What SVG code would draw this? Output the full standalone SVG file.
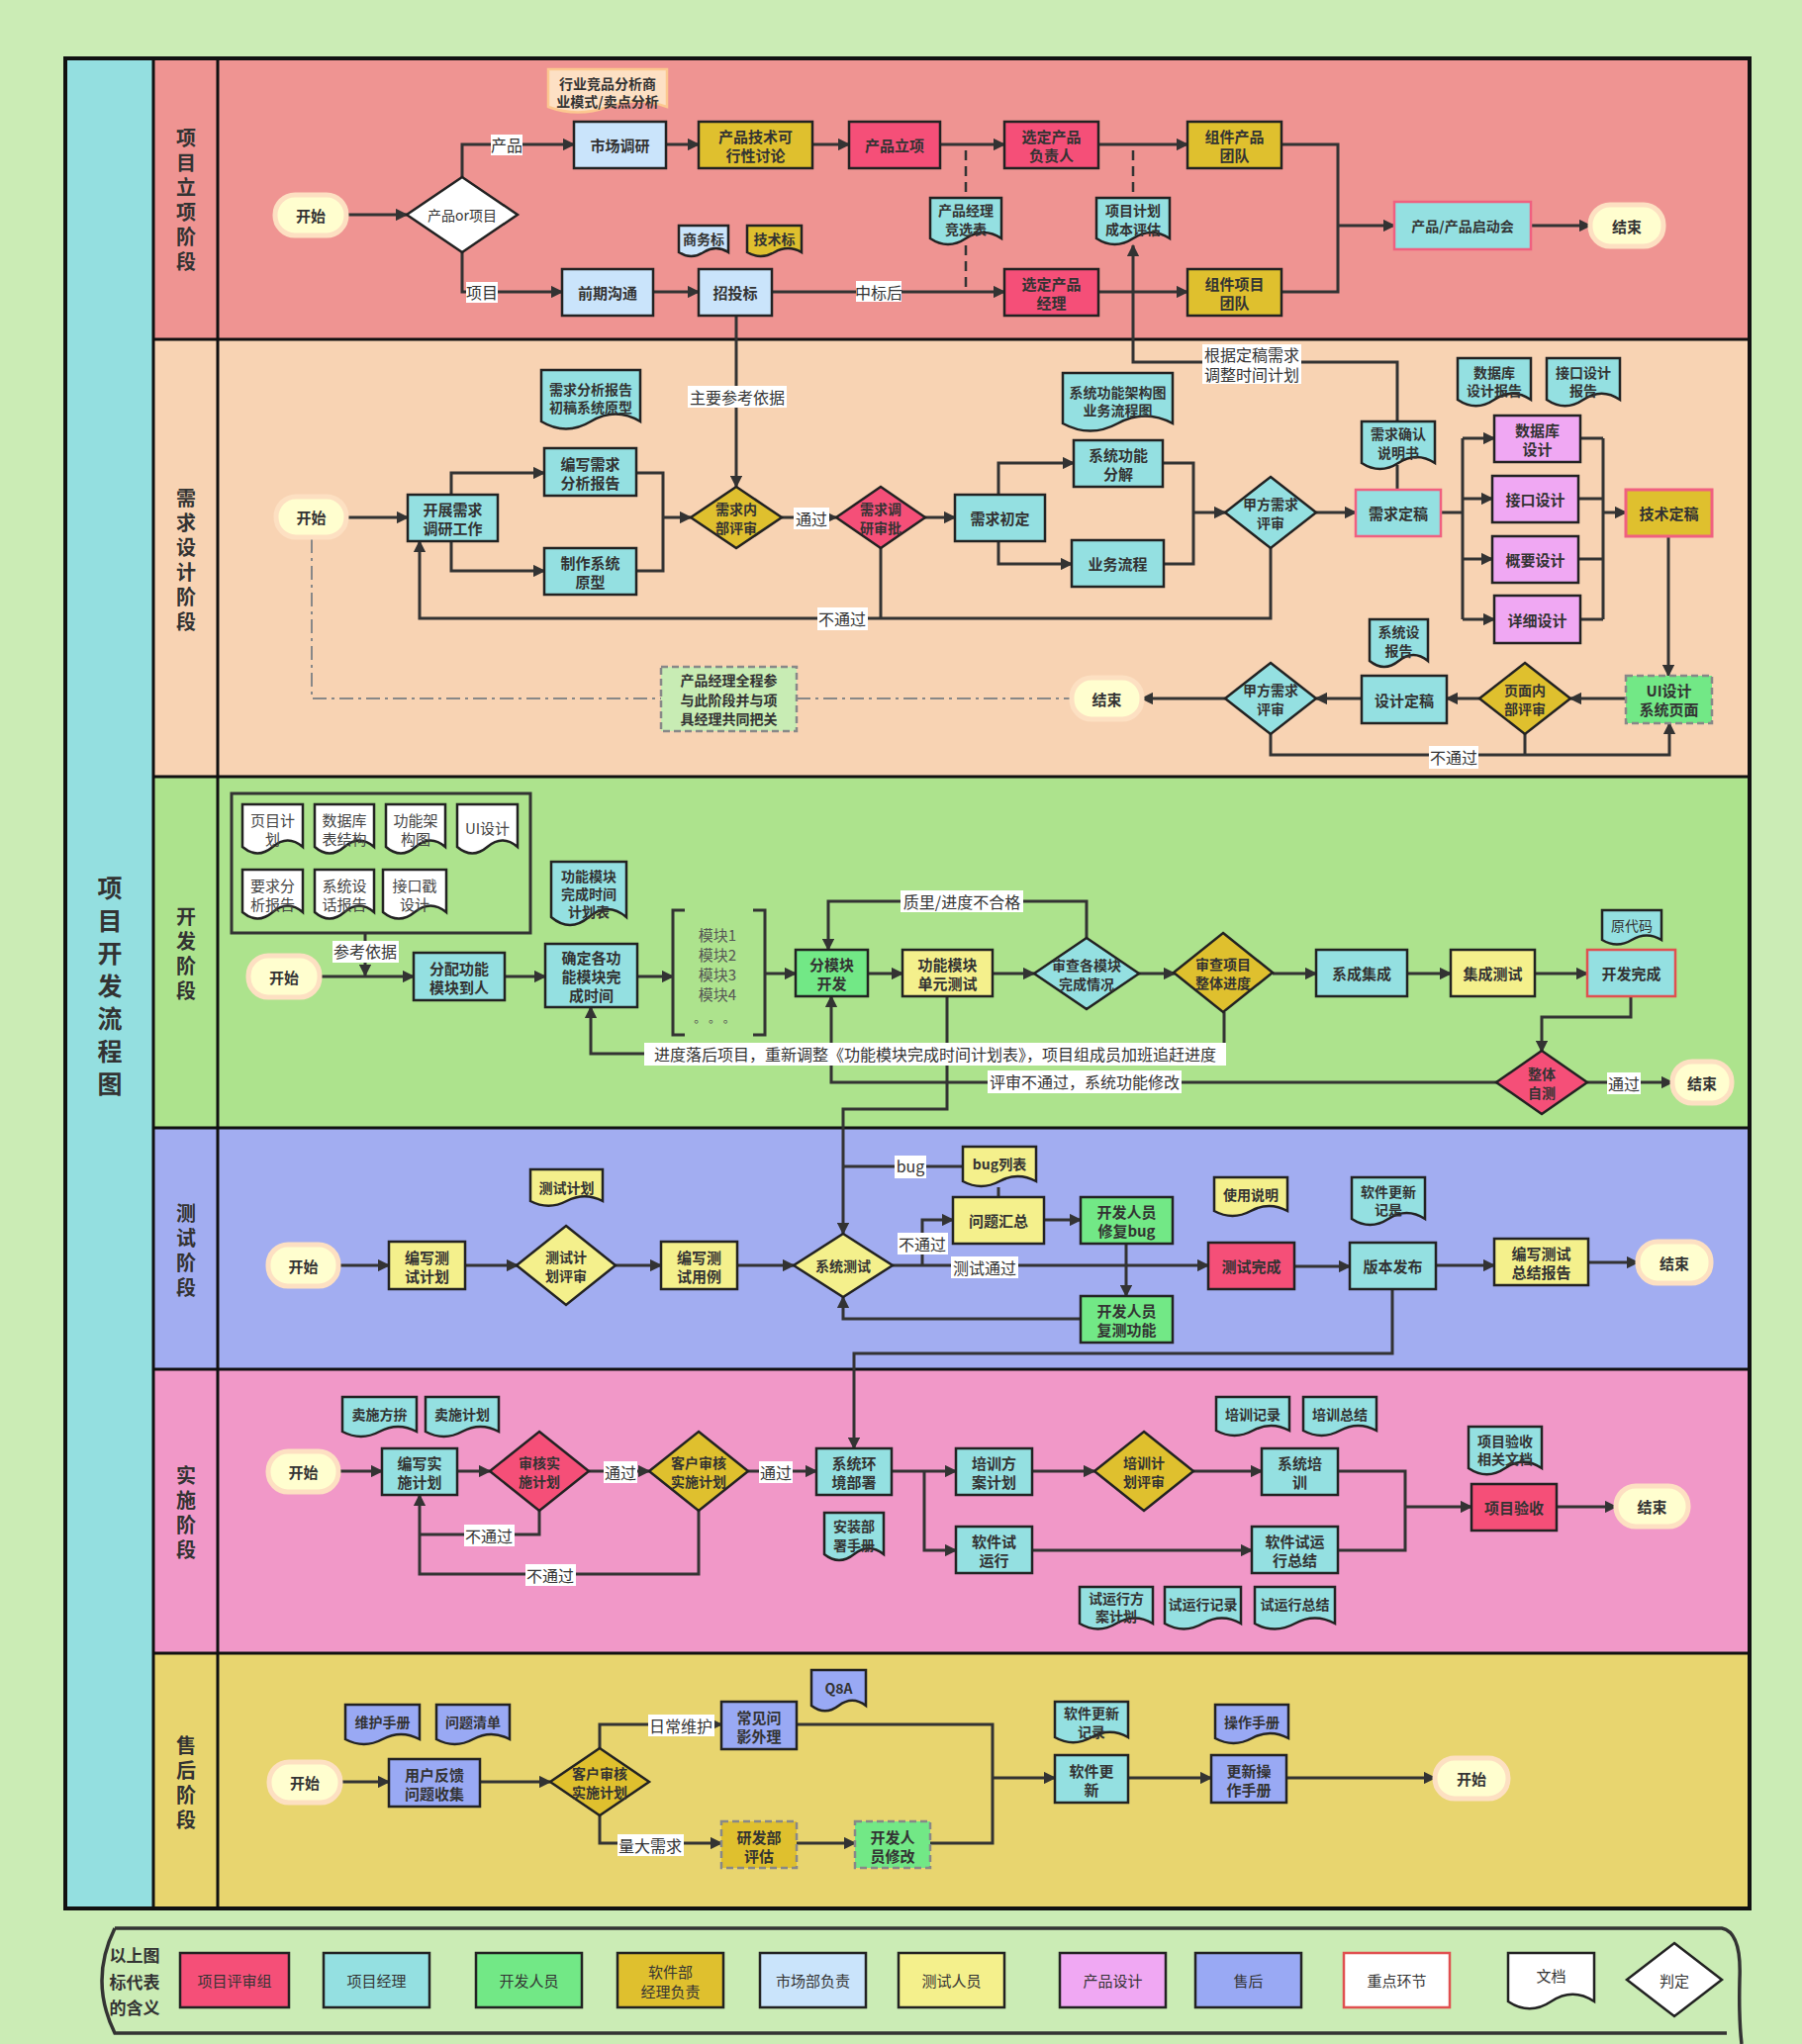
<svg xmlns="http://www.w3.org/2000/svg" width="1821" height="2066" viewBox="0 0 1821 2066">
<defs>
<style>
text{font-family:"Noto Sans CJK SC","Noto Sans",sans-serif;fill:#333;font-size:15px;text-anchor:middle;dominant-baseline:central;font-weight:bold}
text.l{font-weight:normal;font-size:16px}
text.s{font-size:14px}
text.r{font-weight:normal;fill:#444}
text.ph{font-size:20px;fill:#333}
.k{stroke:#222;stroke-width:2.5}
.pr{fill:#f54f78}.gd{fill:#dfc02e}.cy{fill:#94e0e1}.lb{fill:#cae4fb}.gr{fill:#72e886}.ye{fill:#f4f08c}.vi{fill:#f0a8f3}.bl{fill:#99a9f4}.wh{fill:#fff}
.pill{fill:#fffecf;stroke:#fde0c2;stroke-width:5}
.c{fill:none;stroke:#333;stroke-width:3}
.a{marker-end:url(#ar)}
.lbg{fill:#fff}
.dsh{fill:none;stroke:#333;stroke-width:2.5;stroke-dasharray:10 6}
.dd{fill:none;stroke:#888;stroke-width:2;stroke-dasharray:14 5 3 5}
.gdash{stroke:#888;stroke-width:2.5;stroke-dasharray:7 4}
.pk{stroke:#f06080;stroke-width:2.5}
.rd{stroke:#e05050;stroke-width:2.5}
.ln{stroke:#111;stroke-width:3;fill:none}
</style>
<marker id="ar" viewBox="0 0 10 10" refX="9" refY="5" markerWidth="4.2" markerHeight="4.2" orient="auto"><path d="M0,0 L10,5 L0,10z" fill="#333"/></marker>
</defs>

<g id="background">
<rect x="0" y="0" width="1821" height="2066" fill="#cbecb5"/>
<rect x="66" y="59" width="89" height="1870" fill="#94dfe0"/>
<rect x="155" y="59" width="1613" height="284" fill="#ef9492"/>
<rect x="155" y="343" width="1613" height="442" fill="#f8d3b3"/>
<rect x="155" y="785" width="1613" height="355" fill="#ade38d"/>
<rect x="155" y="1140" width="1613" height="244" fill="#a2adf1"/>
<rect x="155" y="1384" width="1613" height="287" fill="#f198c8"/>
<rect x="155" y="1671" width="1613" height="258" fill="#e8d56f"/>
<path class="ln" d="M155,59V1929M220,59V1929M155,343H1768M155,785H1768M155,1140H1768M155,1384H1768M155,1671H1768"/>
<rect x="66" y="59" width="1702" height="1870" fill="none" stroke="#111" stroke-width="4"/>
<text class="ph" style="font-size:25px"><tspan x="111" y="896">项</tspan><tspan x="111" y="929">目</tspan><tspan x="111" y="962">开</tspan><tspan x="111" y="995">发</tspan><tspan x="111" y="1028">流</tspan><tspan x="111" y="1061">程</tspan><tspan x="111" y="1094">图</tspan></text>
<text class="ph"><tspan x="188" y="138">项</tspan><tspan x="188" y="163">目</tspan><tspan x="188" y="188">立</tspan><tspan x="188" y="213">项</tspan><tspan x="188" y="238">阶</tspan><tspan x="188" y="263">段</tspan></text>
<text class="ph"><tspan x="188" y="502">需</tspan><tspan x="188" y="527">求</tspan><tspan x="188" y="552">设</tspan><tspan x="188" y="577">计</tspan><tspan x="188" y="602">阶</tspan><tspan x="188" y="627">段</tspan></text>
<text class="ph"><tspan x="188" y="925">开</tspan><tspan x="188" y="950">发</tspan><tspan x="188" y="975">阶</tspan><tspan x="188" y="1000">段</tspan></text>
<text class="ph"><tspan x="188" y="1225">测</tspan><tspan x="188" y="1250">试</tspan><tspan x="188" y="1275">阶</tspan><tspan x="188" y="1300">段</tspan></text>
<text class="ph"><tspan x="188" y="1490">实</tspan><tspan x="188" y="1515">施</tspan><tspan x="188" y="1540">阶</tspan><tspan x="188" y="1565">段</tspan></text>
<text class="ph"><tspan x="188" y="1763">售</tspan><tspan x="188" y="1788">后</tspan><tspan x="188" y="1813">阶</tspan><tspan x="188" y="1838">段</tspan></text>
</g>

<g id="connectors">
<!-- lane 1 -->
<path class="c a" d="M350,217H411"/>
<path class="c a" d="M467,179V146H580"/>
<path class="c a" d="M673,146H706"/>
<path class="c a" d="M821,146H858"/>
<path class="c a" d="M950,146H1015"/>
<path class="c a" d="M1110,146H1200"/>
<path class="c a" d="M467,255V295H568"/>
<path class="c a" d="M660,295H706"/>
<path class="c a" d="M780,295H1015"/>
<path class="c a" d="M1110,295H1200"/>
<path class="c" d="M1295,146H1352V295H1295"/>
<path class="c a" d="M1352,228H1409"/>
<path class="c a" d="M1547,228H1607"/>
<path class="dsh" d="M976,152V200M976,248V290M1145,152V200"/>
<path class="c a" d="M744,319V492"/>
<path class="c a" d="M1412,427V366H1145V248"/>
<!-- lane 2 -->
<path class="c a" d="M350,523H412"/>
<path class="c a" d="M456,500V478H550"/>
<path class="c a" d="M456,547V577H550"/>
<path class="c" d="M643,478H670V577H643"/>
<path class="c a" d="M670,523H698"/>
<path class="c a" d="M790,523H845"/>
<path class="c a" d="M934,523H965"/>
<path class="c" d="M890,554V625"/>
<path class="c a" d="M1284,554V625H424V547"/>
<path class="c a" d="M1009,500V468H1085"/>
<path class="c a" d="M1009,547V570H1083"/>
<path class="c" d="M1175,468H1206V570H1176"/>
<path class="c a" d="M1206,518H1238"/>
<path class="c a" d="M1330,518H1370"/>
<path class="c" d="M1412,470V495"/>
<path class="c" d="M1456,518H1478M1478,443V626"/>
<path class="c a" d="M1478,443H1510"/>
<path class="c a" d="M1478,504H1508"/>
<path class="c a" d="M1478,565H1508"/>
<path class="c a" d="M1478,626H1510"/>
<path class="c" d="M1597,443H1620M1595,504H1620M1595,565H1620M1597,626H1620M1620,443V626"/>
<path class="c a" d="M1620,518H1643"/>
<path class="c a" d="M1686,542V683"/>
<path class="c a" d="M1643,706H1587"/>
<path class="c a" d="M1495,706H1462"/>
<path class="c a" d="M1376,706H1330"/>
<path class="c a" d="M1238,706H1154"/>
<path class="c a" d="M1284,742V763H1687V731"/>
<path class="c" d="M1541,742V763"/>
<path class="dd" d="M315,545V706H668M805,706H1083"/>
<!-- lane 3 -->
<path class="c a" d="M369,943V986"/>
<path class="c a" d="M323,987H418"/>
<path class="c a" d="M510,987H551"/>
<path class="c a" d="M644,987H680"/>
<path class="c a" d="M773,984H804"/>
<path class="c a" d="M877,984H912"/>
<path class="c a" d="M1003,984H1045"/>
<path class="c a" d="M1150,984H1187"/>
<path class="c a" d="M1286,984H1330"/>
<path class="c a" d="M1422,984H1466"/>
<path class="c a" d="M1551,984H1604"/>
<path class="c a" d="M1098,948V911H837V960"/>
<path class="c a" d="M1237,1023V1065H597V1018"/>
<path class="c a" d="M1513,1094H840V1007"/>
<path class="c a" d="M1648,1007V1028H1558V1063"/>
<path class="c a" d="M1604,1094H1690"/>
<path class="c a" d="M957,1007V1121H852V1247"/>
<path class="c" d="M852,1179H973"/>
<!-- lane 4 -->
<path class="c a" d="M342,1279H393"/>
<path class="c a" d="M470,1279H523"/>
<path class="c a" d="M622,1279H668"/>
<path class="c a" d="M745,1279H802"/>
<path class="c a" d="M902,1279H1221"/>
<path class="c a" d="M932,1279V1233H963"/>
<path class="c" d="M1009,1200V1210"/>
<path class="c a" d="M1055,1233H1092"/>
<path class="c a" d="M1138,1257V1310"/>
<path class="c a" d="M1092,1333H852V1311"/>
<path class="c a" d="M1308,1280H1364"/>
<path class="c a" d="M1451,1279H1510"/>
<path class="c a" d="M1605,1276H1655"/>
<path class="c a" d="M1407,1303V1368H863V1464"/>
<!-- lane 5 -->
<path class="c a" d="M342,1487H386"/>
<path class="c a" d="M462,1487H495"/>
<path class="c a" d="M595,1487H656"/>
<path class="c a" d="M756,1487H825"/>
<path class="c" d="M545,1527V1551H424"/>
<path class="c a" d="M706,1527V1591H424V1511"/>
<path class="c a" d="M901,1487H966"/>
<path class="c a" d="M934,1487V1567H966"/>
<path class="c a" d="M1043,1487H1106"/>
<path class="c a" d="M1206,1487H1275"/>
<path class="c a" d="M1043,1567H1265"/>
<path class="c" d="M1352,1487H1420V1567H1352"/>
<path class="c a" d="M1420,1523H1487"/>
<path class="c a" d="M1573,1523H1633"/>
<!-- lane 6 -->
<path class="c a" d="M344,1801H393"/>
<path class="c a" d="M485,1801H556"/>
<path class="c a" d="M606,1767V1743H729"/>
<path class="c a" d="M606,1835V1863H729"/>
<path class="c a" d="M805,1863H864"/>
<path class="c" d="M805,1743H1003V1863H940"/>
<path class="c a" d="M1003,1797H1066"/>
<path class="c a" d="M1140,1797H1224"/>
<path class="c a" d="M1300,1797H1450"/>
<!-- labels -->
<rect class="lbg" x="496" y="136" width="32" height="21"/><text class="l" x="512" y="146">产品</text>
<rect class="lbg" x="471" y="285" width="32" height="21"/><text class="l" x="487" y="295">项目</text>
<rect class="lbg" x="865" y="284" width="46" height="21"/><text class="l" x="888" y="295">中标后</text>
<rect class="lbg" x="695" y="390" width="100" height="22"/><text class="l" x="745" y="401">主要参考依据</text>
<rect class="lbg" x="1215" y="348" width="100" height="40"/><text class="l"><tspan x="1265" y="358">根据定稿需求</tspan><tspan x="1265" y="378">调整时间计划</tspan></text>
<rect class="lbg" x="802" y="513" width="36" height="22"/><text class="l" x="820" y="524">通过</text>
<rect class="lbg" x="826" y="614" width="51" height="23"/><text class="l" x="851" y="625">不通过</text>
<rect class="lbg" x="1444" y="754" width="50" height="23"/><text class="l" x="1469" y="765">不通过</text>
<rect class="lbg" x="336" y="951" width="67" height="22"/><text class="l" x="369" y="961">参考依据</text>
<rect class="lbg" x="910" y="900" width="124" height="22"/><text class="l" x="972" y="911">质里/进度不合格</text>
<rect class="lbg" x="651" y="1054" width="588" height="23"/><text class="l" x="945" y="1065">进度落后项目，重新调整《功能模块完成时间计划表》，项目组成员加班追赶进度</text>
<rect class="lbg" x="998" y="1082" width="196" height="23"/><text class="l" x="1096" y="1093">评审不通过，系统功能修改</text>
<rect class="lbg" x="1624" y="1084" width="34" height="22"/><text class="l" x="1641" y="1095">通过</text>
<rect class="lbg" x="904" y="1168" width="32" height="23"/><text class="l" x="920" y="1178">bug</text>
<rect class="lbg" x="907" y="1246" width="51" height="22"/><text class="l" x="932" y="1257">不通过</text>
<rect class="lbg" x="961" y="1270" width="68" height="22"/><text class="l" x="995" y="1281">测试通过</text>
<rect class="lbg" x="610" y="1477" width="34" height="22"/><text class="l" x="627" y="1488">通过</text>
<rect class="lbg" x="767" y="1477" width="34" height="22"/><text class="l" x="784" y="1488">通过</text>
<rect class="lbg" x="469" y="1541" width="51" height="22"/><text class="l" x="494" y="1552">不通过</text>
<rect class="lbg" x="531" y="1581" width="51" height="22"/><text class="l" x="556" y="1592">不通过</text>
<rect class="lbg" x="655" y="1733" width="67" height="22"/><text class="l" x="688" y="1744">日常维护</text>
<rect class="lbg" x="624" y="1854" width="67" height="22"/><text class="l" x="657" y="1865">量大需求</text>
</g>

<!-- lane 1 nodes -->
<g id="start1"><rect class="pill" x="278" y="197" width="72" height="41" rx="20"/><text x="314" y="217">开始</text></g>
<g id="decide-product"><polygon class="k wh" points="467,179 523,217 467,255 411,217"/><text class="s" style="font-weight:normal" x="467" y="217">产品or项目</text></g>
<g id="doc-industry"><path d="M554 70h120v38q-30 -11 -60 0t-60 0z" fill="#fde0c4" stroke="#fcc890" stroke-width="2.5"/><text class="s"><tspan x="614" y="84">行业竞品分析商</tspan><tspan x="614" y="102">业模式/卖点分析</tspan></text></g>
<g id="market"><rect class="k lb" x="580" y="123" width="93" height="47"/><text x="626.5" y="146.5">市场调研</text></g>
<g id="feasibility"><rect class="k gd" x="706" y="123" width="115" height="47"/><text><tspan x="763.5" y="137">产品技术可</tspan><tspan x="763.5" y="156">行性讨论</tspan></text></g>
<g id="approve"><rect class="k pr" x="858" y="123" width="92" height="47"/><text x="904" y="146.5">产品立项</text></g>
<g id="pick-owner"><rect class="k pr" x="1015" y="123" width="95" height="47"/><text><tspan x="1062.5" y="137">选定产品</tspan><tspan x="1062.5" y="156">负责人</tspan></text></g>
<g id="team-product"><rect class="k gd" x="1200" y="123" width="95" height="47"/><text><tspan x="1247.5" y="137">组件产品</tspan><tspan x="1247.5" y="156">团队</tspan></text></g>
<g id="comm"><rect class="k lb" x="568" y="272" width="92" height="47"/><text x="614" y="295.5">前期沟通</text></g>
<g id="bid"><rect class="k lb" x="706" y="272" width="74" height="47"/><text x="743" y="295.5">招投标</text></g>
<g id="pick-pm"><rect class="k pr" x="1015" y="272" width="95" height="47"/><text><tspan x="1062.5" y="286">选定产品</tspan><tspan x="1062.5" y="305">经理</tspan></text></g>
<g id="team-project"><rect class="k gd" x="1200" y="272" width="95" height="47"/><text><tspan x="1247.5" y="286">组件项目</tspan><tspan x="1247.5" y="305">团队</tspan></text></g>
<g id="doc-business"><path class="k lb" d="M686 228h50v27q-12.5 -8 -25 0t-25 0z"/><text class="s" x="711" y="241">商务标</text></g>
<g id="doc-tech"><path class="k gd" d="M755 228h55v27q-13.75 -8 -27.5 0t-27.5 0z"/><text class="s" x="782.5" y="241">技术标</text></g>
<g id="doc-pm-select"><path class="k cy" d="M940 200h72v41q-18 -12 -36 0t-36 0z"/><text class="s"><tspan x="976" y="212">产品经理</tspan><tspan x="976" y="231">竞选表</tspan></text></g>
<g id="doc-plan-cost"><path class="k cy" d="M1108 200h74v41q-18.5 -12 -37 0t-37 0z"/><text class="s"><tspan x="1145" y="212">项目计划</tspan><tspan x="1145" y="231">成本评估</tspan></text></g>
<g id="kickoff"><rect class="pk cy" x="1409" y="204" width="138" height="48"/><text class="s" x="1478" y="228">产品/产品启动会</text></g>
<g id="end1"><rect class="pill" x="1607" y="207" width="74" height="42" rx="20"/><text x="1644" y="228">结束</text></g>

<!-- lane 2 nodes -->
<g id="start2"><rect class="pill" x="279" y="502" width="71" height="41" rx="20"/><text x="314.5" y="522.5">开始</text></g>
<g id="research"><rect class="k cy" x="412" y="500" width="91" height="47"/><text><tspan x="457.5" y="514">开展需求</tspan><tspan x="457.5" y="533">调研工作</tspan></text></g>
<g id="write-req"><rect class="k cy" x="550" y="453" width="93" height="48"/><text><tspan x="596.5" y="467.5">编写需求</tspan><tspan x="596.5" y="486.5">分析报告</tspan></text></g>
<g id="prototype"><rect class="k cy" x="550" y="554" width="93" height="47"/><text><tspan x="596.5" y="568">制作系统</tspan><tspan x="596.5" y="587">原型</tspan></text></g>
<g id="doc-req"><path class="k cy" d="M547 374h100v52q-25 -15 -50 0t-50 0z"/><text class="s"><tspan x="597" y="393">需求分析报告</tspan><tspan x="597" y="411">初稿系统原型</tspan></text></g>
<g id="req-review"><polygon class="k gd" points="744,492 790,523 744,554 698,523"/><text class="s"><tspan x="744" y="514">需求内</tspan><tspan x="744" y="533">部评审</tspan></text></g>
<g id="req-approve"><polygon class="k pr" points="890,492 935,523 890,554 845,523"/><text class="s"><tspan x="890" y="514">需求调</tspan><tspan x="890" y="533">研审批</tspan></text></g>
<g id="req-init"><rect class="k cy" x="965" y="500" width="91" height="47"/><text x="1010.5" y="523.5">需求初定</text></g>
<g id="doc-arch"><path class="k cy" d="M1074 377h111v51q-27.75 -15 -55.5 0t-55.5 0z"/><text class="s"><tspan x="1129.5" y="396">系统功能架构图</tspan><tspan x="1129.5" y="414">业务流程图</tspan></text></g>
<g id="func-decomp"><rect class="k cy" x="1085" y="445" width="90" height="47"/><text><tspan x="1130" y="459">系统功能</tspan><tspan x="1130" y="478">分解</tspan></text></g>
<g id="biz-flow"><rect class="k cy" x="1083" y="546" width="93" height="47"/><text x="1129.5" y="569.5">业务流程</text></g>
<g id="client-review1"><polygon class="k cy" points="1284,482 1330,518 1284,554 1238,518"/><text class="s"><tspan x="1284" y="509">甲方需求</tspan><tspan x="1284" y="528">评审</tspan></text></g>
<g id="doc-confirm"><path class="k cy" d="M1376 426h74v42q-18.5 -12 -37 0t-37 0z"/><text class="s"><tspan x="1413" y="438">需求确认</tspan><tspan x="1413" y="457">说明书</tspan></text></g>
<g id="req-final"><rect class="pk cy" x="1370" y="495" width="86" height="47"/><text x="1413" y="518.5">需求定稿</text></g>
<g id="doc-db"><path class="k cy" d="M1473 362h74v42q-18.5 -12.5 -37 0t-37 0z"/><text class="s"><tspan x="1510" y="376">数据库</tspan><tspan x="1510" y="394">设计报告</tspan></text></g>
<g id="doc-api"><path class="k cy" d="M1563 362h74v42q-18.5 -12.5 -37 0t-37 0z"/><text class="s"><tspan x="1600" y="376">接口设计</tspan><tspan x="1600" y="394">报告</tspan></text></g>
<g id="db-design"><rect class="k vi" x="1510" y="420" width="87" height="47"/><text><tspan x="1553.5" y="434">数据库</tspan><tspan x="1553.5" y="453">设计</tspan></text></g>
<g id="api-design"><rect class="k vi" x="1508" y="481" width="87" height="47"/><text x="1551.5" y="504.5">接口设计</text></g>
<g id="outline-design"><rect class="k vi" x="1508" y="542" width="87" height="47"/><text x="1551.5" y="565.5">概要设计</text></g>
<g id="detail-design"><rect class="k vi" x="1510" y="602" width="87" height="48"/><text x="1553.5" y="626">详细设计</text></g>
<g id="tech-final"><rect class="gd" x="1643" y="495" width="87" height="47" stroke="#f06080" stroke-width="3"/><text x="1686.5" y="518.5">技术定稿</text></g>
<g id="ui-design"><rect class="gdash gr" x="1643" y="683" width="87" height="48"/><text><tspan x="1686.5" y="697">UI设计</tspan><tspan x="1686.5" y="716">系统页面</tspan></text></g>
<g id="page-review"><polygon class="k gd" points="1541,670 1587,706 1541,742 1495,706"/><text class="s"><tspan x="1541" y="697">页面内</tspan><tspan x="1541" y="716">部评审</tspan></text></g>
<g id="design-final"><rect class="k cy" x="1376" y="683" width="86" height="48"/><text x="1419" y="707">设计定稿</text></g>
<g id="doc-sysdesign"><path class="k cy" d="M1384 626h59v42q-14.75 -12 -29.5 0t-29.5 0z"/><text class="s"><tspan x="1413.5" y="638">系统设</tspan><tspan x="1413.5" y="657">报告</tspan></text></g>
<g id="client-review2"><polygon class="k cy" points="1284,670 1330,706 1284,742 1238,706"/><text class="s"><tspan x="1284" y="697">甲方需求</tspan><tspan x="1284" y="716">评审</tspan></text></g>
<g id="end2"><rect class="pill" x="1083" y="685" width="71" height="42" rx="20"/><text x="1118.5" y="706">结束</text></g>
<g id="note-pm"><rect class="gdash" x="668" y="674" width="137" height="65" fill="#c8ecb4"/><text class="s"><tspan x="736.5" y="687">产品经理全程参</tspan><tspan x="736.5" y="706.5">与此阶段并与项</tspan><tspan x="736.5" y="726">具经理共同把关</tspan></text></g>

<!-- lane 3 nodes -->
<g id="dev-docs">
<rect x="234" y="802" width="302" height="141" fill="none" stroke="#333" stroke-width="3"/>
<path class="k wh" d="M245 813h61v43q-15.25 -13 -30.5 0t-30.5 0z"/>
<path class="k wh" d="M318 813h60v43q-15 -13 -30 0t-30 0z"/>
<path class="k wh" d="M390 813h60v43q-15 -13 -30 0t-30 0z"/>
<path class="k wh" d="M462 813h61v43q-15.25 -13 -30.5 0t-30.5 0z"/>
<path class="k wh" d="M245 879h61v43q-15.25 -13 -30.5 0t-30.5 0z"/>
<path class="k wh" d="M318 879h60v43q-15 -13 -30 0t-30 0z"/>
<path class="k wh" d="M387 879h64v43q-16 -13 -32 0t-32 0z"/>
<text class="r"><tspan x="275.5" y="828">页目计</tspan><tspan x="275.5" y="847">划</tspan></text>
<text class="r"><tspan x="348" y="828">数据库</tspan><tspan x="348" y="847">表结构</tspan></text>
<text class="r"><tspan x="420" y="828">功能架</tspan><tspan x="420" y="847">构图</tspan></text>
<text class="r" x="492.5" y="836">UI设计</text>
<text class="r"><tspan x="275.5" y="894">要求分</tspan><tspan x="275.5" y="913">析报告</tspan></text>
<text class="r"><tspan x="348" y="894">系统设</tspan><tspan x="348" y="913">话报告</tspan></text>
<text class="r"><tspan x="419" y="894">接口戳</tspan><tspan x="419" y="913">设计</tspan></text>
</g>
<g id="start3"><rect class="pill" x="251" y="966" width="72" height="42" rx="20"/><text x="287" y="987">开始</text></g>
<g id="assign"><rect class="k cy" x="418" y="963" width="92" height="48"/><text><tspan x="464" y="977.5">分配功能</tspan><tspan x="464" y="996.5">模块到人</tspan></text></g>
<g id="doc-schedule"><path class="k cy" d="M557 871h76v56q-19 -16 -38 0t-38 0z"/><text class="s"><tspan x="595" y="885">功能模块</tspan><tspan x="595" y="903">完成时间</tspan><tspan x="595" y="921">计划表</tspan></text></g>
<g id="schedule"><rect class="k cy" x="551" y="954" width="93" height="64"/><text><tspan x="597.5" y="967">确定各功</tspan><tspan x="597.5" y="986">能模块完</tspan><tspan x="597.5" y="1005">成时间</tspan></text></g>
<g id="modules">
<path d="M692,920H680V1046H692M761,920H773V1046H761" fill="none" stroke="#333" stroke-width="3"/>
<text class="r" style="fill:#555"><tspan x="725" y="944">模块1</tspan><tspan x="725" y="964">模块2</tspan><tspan x="725" y="984">模块3</tspan><tspan x="725" y="1004">模块4</tspan></text>
<text class="r" style="fill:#555;font-size:12px" x="722" y="1028">。 。 。</text>
</g>
<g id="module-dev"><rect class="k gr" x="804" y="960" width="73" height="47"/><text><tspan x="840.5" y="974">分模块</tspan><tspan x="840.5" y="993">开发</tspan></text></g>
<g id="unit-test"><rect class="k ye" x="912" y="960" width="91" height="47"/><text><tspan x="957.5" y="974">功能模块</tspan><tspan x="957.5" y="993">单元测试</tspan></text></g>
<g id="check-modules"><polygon class="k cy" points="1098,948 1151,984 1098,1020 1045,984"/><text class="s"><tspan x="1098" y="975">审查各模块</tspan><tspan x="1098" y="994">完成情况</tspan></text></g>
<g id="check-progress"><polygon class="k gd" points="1236,943 1286,983 1236,1023 1186,983"/><text class="s"><tspan x="1236" y="974">审查项目</tspan><tspan x="1236" y="993">整体进度</tspan></text></g>
<g id="integrate"><rect class="k cy" x="1330" y="960" width="92" height="47"/><text x="1376" y="983.5">系成集成</text></g>
<g id="int-test"><rect class="k ye" x="1466" y="960" width="85" height="47"/><text x="1508.5" y="983.5">集成测试</text></g>
<g id="dev-done"><rect class="rd cy" x="1604" y="960" width="89" height="47"/><text x="1648.5" y="983.5">开发完成</text></g>
<g id="doc-source"><path class="k cy" d="M1619 920h60v30q-15 -9 -30 0t-30 0z"/><text class="s" style="font-weight:normal" x="1649" y="935">原代码</text></g>
<g id="self-test"><polygon class="k pr" points="1558,1062 1604,1094 1558,1126 1512,1094"/><text class="s"><tspan x="1558" y="1085">整体</tspan><tspan x="1558" y="1104">自测</tspan></text></g>
<g id="end3"><rect class="pill" x="1690" y="1073" width="60" height="42" rx="20"/><text x="1720" y="1094">结束</text></g>

<!-- lane 4 nodes -->
<g id="start4"><rect class="pill" x="271" y="1258" width="71" height="42" rx="20"/><text x="306.5" y="1279">开始</text></g>
<g id="write-plan"><rect class="k ye" x="393" y="1255" width="77" height="48"/><text><tspan x="431.5" y="1269.5">编写测</tspan><tspan x="431.5" y="1288.5">试计划</tspan></text></g>
<g id="doc-testplan"><path class="k ye" d="M536 1182h73v32q-18.25 -9.5 -36.5 0t-36.5 0z"/><text class="s" x="572.5" y="1200">测试计划</text></g>
<g id="plan-review"><polygon class="k ye" points="572,1239 622,1279 572,1319 522,1279"/><text class="s"><tspan x="572" y="1269.5">测试计</tspan><tspan x="572" y="1288.5">划评审</tspan></text></g>
<g id="write-cases"><rect class="k ye" x="668" y="1255" width="77" height="48"/><text><tspan x="706.5" y="1269.5">编写测</tspan><tspan x="706.5" y="1288.5">试用例</tspan></text></g>
<g id="sys-test"><polygon class="k ye" points="852,1247 902,1279 852,1311 802,1279"/><text class="s" x="852" y="1279">系统测试</text></g>
<g id="doc-buglist"><path class="k ye" d="M973 1159h74v35q-18.5 -10 -37 0t-37 0z"/><text class="s" x="1010" y="1176">bug列表</text></g>
<g id="issues"><rect class="k ye" x="963" y="1210" width="92" height="47"/><text x="1009" y="1233.5">问题汇总</text></g>
<g id="fix-bug"><rect class="k gr" x="1092" y="1210" width="93" height="47"/><text><tspan x="1138.5" y="1224">开发人员</tspan><tspan x="1138.5" y="1243">修复bug</tspan></text></g>
<g id="retest"><rect class="k gr" x="1092" y="1310" width="93" height="47"/><text><tspan x="1138.5" y="1324">开发人员</tspan><tspan x="1138.5" y="1343">复测功能</tspan></text></g>
<g id="test-done"><rect class="k pr" x="1221" y="1256" width="87" height="47"/><text x="1264.5" y="1279.5">测试完成</text></g>
<g id="doc-manual"><path class="k ye" d="M1227 1190h74v34q-18.5 -10 -37 0t-37 0z"/><text class="s" x="1264" y="1207">使用说明</text></g>
<g id="release"><rect class="k cy" x="1364" y="1256" width="87" height="47"/><text x="1407.5" y="1279.5">版本发布</text></g>
<g id="doc-changelog"><path class="k cy" d="M1366 1190h74v42q-18.5 -12 -37 0t-37 0z"/><text class="s"><tspan x="1403" y="1204">软件更新</tspan><tspan x="1403" y="1222">记是</tspan></text></g>
<g id="test-report"><rect class="k ye" x="1510" y="1252" width="95" height="47"/><text><tspan x="1557.5" y="1266">编写测试</tspan><tspan x="1557.5" y="1285">总结报告</tspan></text></g>
<g id="end4"><rect class="pill" x="1655" y="1255" width="74" height="42" rx="20"/><text x="1692" y="1276">结束</text></g>

<!-- lane 5 nodes -->
<g id="start5"><rect class="pill" x="271" y="1467" width="71" height="41" rx="20"/><text x="306.5" y="1487.5">开始</text></g>
<g id="impl-plan"><rect class="k cy" x="386" y="1464" width="76" height="47"/><text><tspan x="424" y="1478">编写实</tspan><tspan x="424" y="1497">施计划</tspan></text></g>
<g id="doc-impl-scheme"><path class="k cy" d="M346 1412h75v35q-18.75 -10 -37.5 0t-37.5 0z"/><text class="s" x="383.5" y="1429">卖施方拚</text></g>
<g id="doc-impl-plan"><path class="k cy" d="M430 1412h74v35q-18.5 -10 -37 0t-37 0z"/><text class="s" x="467" y="1429">卖施计划</text></g>
<g id="impl-review"><polygon class="k pr" points="545,1447 595,1487 545,1527 495,1487"/><text class="s"><tspan x="545" y="1478">审核实</tspan><tspan x="545" y="1497">施计划</tspan></text></g>
<g id="client-impl-review"><polygon class="k gd" points="706,1447 756,1487 706,1527 656,1487"/><text class="s"><tspan x="706" y="1478">客户审核</tspan><tspan x="706" y="1497">实施计划</tspan></text></g>
<g id="deploy"><rect class="k cy" x="825" y="1464" width="76" height="47"/><text><tspan x="863" y="1478">系统环</tspan><tspan x="863" y="1497">境部署</tspan></text></g>
<g id="doc-install"><path class="k cy" d="M833 1529h60v42q-15 -12 -30 0t-30 0z"/><text class="s"><tspan x="863" y="1542">安装部</tspan><tspan x="863" y="1561">署手册</tspan></text></g>
<g id="train-plan"><rect class="k cy" x="966" y="1464" width="77" height="47"/><text><tspan x="1004.5" y="1478">培训方</tspan><tspan x="1004.5" y="1497">案计划</tspan></text></g>
<g id="trial-run"><rect class="k cy" x="966" y="1543" width="77" height="47"/><text><tspan x="1004.5" y="1557">软件试</tspan><tspan x="1004.5" y="1576">运行</tspan></text></g>
<g id="train-review"><polygon class="k gd" points="1156,1447 1206,1487 1156,1527 1106,1487"/><text class="s"><tspan x="1156" y="1478">培训计</tspan><tspan x="1156" y="1497">划评审</tspan></text></g>
<g id="doc-trial-plan"><path class="k cy" d="M1091 1604h74v37q-18.5 -11 -37 0t-37 0z"/><text class="s"><tspan x="1128" y="1615">试运行方</tspan><tspan x="1128" y="1633">案计划</tspan></text></g>
<g id="doc-trial-log"><path class="k cy" d="M1177 1604h77v37q-19.25 -11 -38.5 0t-38.5 0z"/><text class="s" x="1215.5" y="1621">试运行记录</text></g>
<g id="doc-trial-sum"><path class="k cy" d="M1268 1604h81v37q-20.25 -11 -40.5 0t-40.5 0z"/><text class="s" x="1308.5" y="1621">试运行总结</text></g>
<g id="training"><rect class="k cy" x="1275" y="1464" width="77" height="47"/><text><tspan x="1313.5" y="1478">系统培</tspan><tspan x="1313.5" y="1497">训</tspan></text></g>
<g id="trial-summary"><rect class="k cy" x="1265" y="1543" width="87" height="47"/><text><tspan x="1308.5" y="1557">软件试运</tspan><tspan x="1308.5" y="1576">行总结</tspan></text></g>
<g id="doc-train-log"><path class="k cy" d="M1229 1412h74v34q-18.5 -10 -37 0t-37 0z"/><text class="s" x="1266" y="1429">培训记录</text></g>
<g id="doc-train-sum"><path class="k cy" d="M1317 1412h74v34q-18.5 -10 -37 0t-37 0z"/><text class="s" x="1354" y="1429">培训总结</text></g>
<g id="doc-accept"><path class="k cy" d="M1484 1442h74v42q-18.5 -12.5 -37 0t-37 0z"/><text class="s"><tspan x="1521" y="1456">项目验收</tspan><tspan x="1521" y="1474">相关文档</tspan></text></g>
<g id="accept"><rect class="k pr" x="1487" y="1500" width="86" height="47"/><text x="1530" y="1523.5">项目验收</text></g>
<g id="end5"><rect class="pill" x="1633" y="1502" width="73" height="41" rx="20"/><text x="1669.5" y="1522.5">结束</text></g>

<!-- lane 6 nodes -->
<g id="start6"><rect class="pill" x="272" y="1781" width="72" height="41" rx="20"/><text x="308" y="1801.5">开始</text></g>
<g id="feedback"><rect class="k bl" x="393" y="1778" width="92" height="48"/><text><tspan x="439" y="1792.5">用户反馈</tspan><tspan x="439" y="1811.5">问题收集</tspan></text></g>
<g id="doc-maint"><path class="k bl" d="M349 1723h75v35q-18.75 -10 -37.5 0t-37.5 0z"/><text class="s" x="386.5" y="1740">维护手册</text></g>
<g id="doc-issues"><path class="k bl" d="M441 1723h74v35q-18.5 -10 -37 0t-37 0z"/><text class="s" x="478" y="1740">问题清单</text></g>
<g id="client-review3"><polygon class="k gd" points="606,1767 656,1801 606,1835 556,1801"/><text class="s"><tspan x="606" y="1792">客户审核</tspan><tspan x="606" y="1811">实施计划</tspan></text></g>
<g id="faq"><rect class="k bl" x="729" y="1720" width="76" height="48"/><text><tspan x="767" y="1734.5">常见问</tspan><tspan x="767" y="1753.5">影外理</tspan></text></g>
<g id="doc-qa"><path class="k bl" d="M820 1688h55v36q-13.75 -10.5 -27.5 0t-27.5 0z"/><text class="s" x="847.5" y="1706">Q8A</text></g>
<g id="rd-eval"><rect class="gdash gd" x="729" y="1841" width="76" height="47"/><text><tspan x="767" y="1855.5">研发部</tspan><tspan x="767" y="1874.5">评估</tspan></text></g>
<g id="dev-modify"><rect class="gdash gr" x="864" y="1841" width="76" height="47"/><text><tspan x="902" y="1855.5">开发人</tspan><tspan x="902" y="1874.5">员修改</tspan></text></g>
<g id="sw-update"><rect class="k cy" x="1066" y="1774" width="74" height="48"/><text><tspan x="1103" y="1788.5">软件更</tspan><tspan x="1103" y="1807.5">新</tspan></text></g>
<g id="doc-sw-log"><path class="k cy" d="M1066 1720h74v36q-18.5 -10.5 -37 0t-37 0z"/><text class="s"><tspan x="1103" y="1731">软件更新</tspan><tspan x="1103" y="1750">记录</tspan></text></g>
<g id="update-manual"><rect class="k bl" x="1224" y="1774" width="76" height="48"/><text><tspan x="1262" y="1788.5">更新操</tspan><tspan x="1262" y="1807.5">作手册</tspan></text></g>
<g id="doc-op-manual"><path class="k bl" d="M1228 1723h74v34q-18.5 -10 -37 0t-37 0z"/><text class="s" x="1265" y="1740">操作手册</text></g>
<g id="start7"><rect class="pill" x="1450" y="1777" width="74" height="41" rx="20"/><text x="1487" y="1797.5">开始</text></g>

<!-- legend -->
<g id="legend">
<path d="M116,1949H1740Q1760,1953 1758,2000Q1757,2040 1760,2066M1745,2055H116Q90,2002 116,1949" fill="none" stroke="#333" stroke-width="3.5"/>
<text style="font-size:17px"><tspan x="136" y="1975">以上图</tspan><tspan x="136" y="2002">标代表</tspan><tspan x="136" y="2028">的含义</tspan></text>
<rect class="k pr" x="182" y="1974" width="110" height="55"/><text class="r" style="fill:#333" x="237" y="2001.5">项目评审组</text>
<rect class="k cy" x="327" y="1974" width="107" height="55"/><text class="r" style="fill:#333" x="380.5" y="2001.5">项目经理</text>
<rect class="k gr" x="481" y="1974" width="107" height="55"/><text class="r" style="fill:#333" x="534.5" y="2001.5">开发人员</text>
<rect class="k gd" x="624" y="1974" width="107" height="55"/><text class="r" style="fill:#333"><tspan x="677.5" y="1992">软件部</tspan><tspan x="677.5" y="2012">经理负责</tspan></text>
<rect class="k lb" x="768" y="1974" width="107" height="55"/><text class="r" style="fill:#333" x="821.5" y="2001.5">市场部负责</text>
<rect class="k ye" x="908" y="1974" width="107" height="55"/><text class="r" style="fill:#333" x="961.5" y="2001.5">测试人员</text>
<rect class="k vi" x="1071" y="1974" width="107" height="55"/><text class="r" style="fill:#333" x="1124.5" y="2001.5">产品设计</text>
<rect class="k bl" x="1208" y="1974" width="107" height="55"/><text class="r" style="fill:#333" x="1261.5" y="2001.5">售后</text>
<rect class="wh" x="1358" y="1974" width="107" height="55" stroke="#e05050" stroke-width="2.5"/><text class="r" style="fill:#333" x="1411.5" y="2001.5">重点环节</text>
<path class="k wh" d="M1524 1974h87v49q-21.75 -14.5 -43.5 0t-43.5 0z"/><text class="r" style="fill:#333" x="1567.5" y="1996">文档</text>
<polygon class="k wh" points="1692,1964 1740,2001 1692,2038 1644,2001"/><text class="r" style="fill:#333" x="1692" y="2001">判定</text>
</g>
</svg>
